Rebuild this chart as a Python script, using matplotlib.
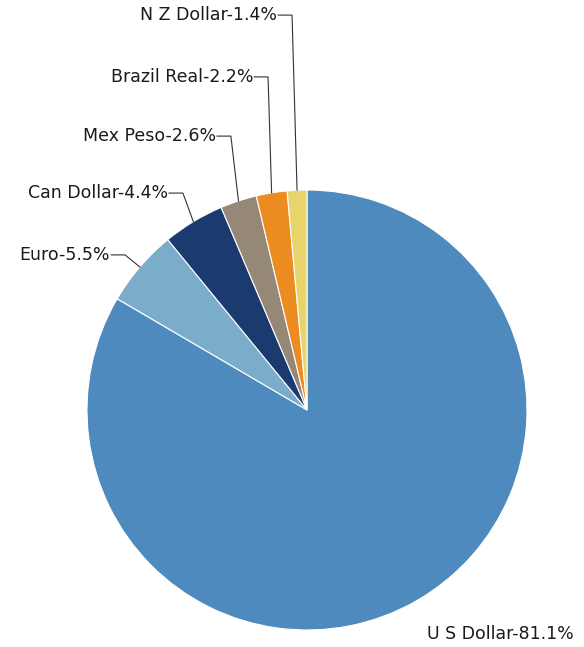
import numpy as np
import matplotlib
matplotlib.use("Agg")
import matplotlib.pyplot as plt

# currency share of the portfolio
currencies = ["U S Dollar", "Euro", "Can Dollar", "Mex Peso", "Brazil Real", "N Z Dollar"]
shares = [81.1, 5.5, 4.4, 2.6, 2.2, 1.4]
colors = ["#4f8abe", "#7badcb", "#1b3a70", "#958877", "#ec8b20", "#e8d46b"]

# label anchor (right end x, y) for the small slices, in data units
label_pos = {
    "Euro": (-0.895, 0.705),
    "Can Dollar": (-0.632, 0.986),
    "Mex Peso": (-0.414, 1.245),
    "Brazil Real": (-0.245, 1.514),
    "N Z Dollar": (-0.136, 1.795),
}

fig = plt.figure(figsize=(5.84, 6.47), dpi=100)
ax = fig.add_axes([0, 0, 1, 1])

wedges, _ = ax.pie(shares, colors=colors, startangle=90, counterclock=False,
                   radius=1, wedgeprops=dict(edgecolor="white", linewidth=0.8))

# pie() resets the limits, so set them afterwards
ax.set_xlim(-307 / 220, 277 / 220)
ax.set_ylim(-237 / 220, 410 / 220)
ax.axis("off")

font = dict(family="DejaVu Sans", fontsize=12.5, color="#1a1a1a")
for w, name, val in zip(wedges, currencies, shares):
    text = f"{name}-{val}%"
    if name not in label_pos:
        ax.text(1.214, -1.018, text, ha="right", va="center", **font)
        continue
    tx, ty = label_pos[name]
    mid = np.deg2rad((w.theta1 + w.theta2) / 2)
    px, py = np.cos(mid), np.sin(mid)
    ex = tx + 0.068
    ax.plot([px, ex, tx + 0.005], [py, ty, ty], color="#333333", lw=0.8)
    ax.text(tx, ty, text, ha="right", va="center", **font)

fig.savefig("out.png", dpi=100)
